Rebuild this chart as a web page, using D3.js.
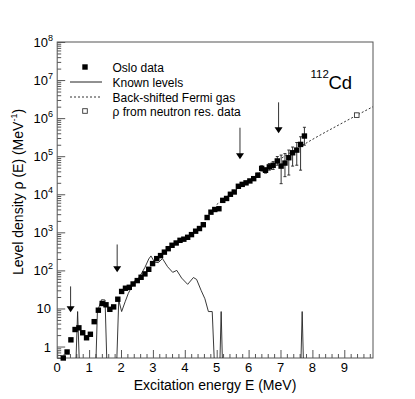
<!DOCTYPE html>
<html><head><meta charset="utf-8">
<script src="https://cdn.jsdelivr.net/npm/d3@7"></script>
<style>
html,body{margin:0;padding:0;background:#fff;}
svg{display:block;font-family:"Liberation Sans",Arial,Helvetica,sans-serif;}
</style></head>
<body><svg id="c" width="415" height="399"></svg>
<script>
// ---------- data ----------
const osloE = [0.19,0.31,0.43,0.56,0.68,0.80,0.92,1.04,1.16,1.29,1.41,1.53,1.65,1.77,1.90,
  2.02,2.14,2.26,2.38,2.51,2.63,2.75,2.87,2.99,3.12,3.24,3.36,3.48,3.60,3.73,3.85,3.97,
  4.09,4.21,4.34,4.46,4.58,4.70,4.82,4.94,5.07,5.19,5.31,5.43,5.55,5.68,5.80,5.92,6.04,
  6.16,6.29,6.41,6.53,6.65,6.77,6.90,7.02,7.14,7.26,7.38,7.51,7.63,7.75];
const osloRho = [0.5,0.72,1.5,2.8,3.1,2.3,1.7,2.1,4.5,9.0,13.5,12.5,9.5,11,17.5,
  28,34,36,44,54,66,81,107,151,204,245,302,372,457,525,617,661,
  741,871,1072,1259,1585,2455,3388,3981,4169,6918,7762,10000,11480,16218,18197,19953,22387,
  25704,31623,47863,42658,52481,57544,75000,54954,66069,91201,123027,144544,204174,338844];
// error bars (lower / upper) for the points where they are visible
const errE  = [6.29,6.41,6.53,6.65,6.77,6.90,7.02,7.14,7.26,7.38,7.51,7.63,7.75];
const errLo = [28000,41000,36000,43000,45000,58000,19000,29000,32000,55000,58000,43000,195000];
const errHi = [36000,56000,50000,64000,72000,98000,107000,117000,145000,174000,229000,324000,575000];

const knownE = [0.56,0.64,0.72,1.19,1.26,1.39,1.50,1.58,1.84,1.93,2.02,2.13,2.23,2.33,2.44,2.55,
  2.65,2.75,2.87,2.94,3.05,3.17,3.30,3.46,3.62,3.75,3.90,4.09,4.27,4.37,4.51,4.63,4.74,4.86,
  4.96,5.08,5.14,5.20,7.62,7.68,7.74,9.9];
const knownRho = [0,8.3,0,0,8.3,17,16.7,0,0,16.7,8.3,15,25,36,55,62,
  85,120,200,240,165,160,205,125,89,100,63,43,65,58,30,18,8.3,8.3,
  0,0,8.3,0,0,8.3,0,0];

const bsfgE = [5.0,6.0,7.0,8.0,9.0,9.9];
const bsfgRho = [5370,22900,85100,275000,794000,2000000];

const neutronE = [9.39];
const neutronRho = [1.2e6];
const neutronLo = [1.05e6];
const neutronHi = [1.38e6];

const arrowE = [0.42,1.88,5.73,6.94];
const arrowTip = [8.0,90,83000,400000];
const arrowTop = [38,480,560000,2600000];

const xTicks = [0,1,2,3,4,5,6,7,8,9];
const yExps = [0,1,2,3,4,5,6,7,8];
const legendLabels = ["Oslo data","Known levels","Back-shifted Fermi gas","\u03c1 from neutron res. data"];

// ---------- layout ----------
const svg = d3.select("#c");
const L = 57.2, R = 373, T = 42, B = 358;
const x = d3.scaleLinear().domain([0,9.9]).range([L,R]);
const y = d3.scaleLog().domain([0.5,1e8]).range([B,T]);
const yv = v => v > 0 ? y(v) : B + 30;
const axisCol = "#555";

svg.append("clipPath").attr("id","clip").append("rect")
  .attr("x",L).attr("y",T).attr("width",R-L).attr("height",B-T);

// frame
svg.append("rect").attr("x",L).attr("y",T).attr("width",R-L).attr("height",B-T)
  .attr("fill","none").attr("stroke",axisCol).attr("stroke-width",1);

// x axis ticks
const xMinor = d3.range(0,99).map(i=>i*0.2).filter(v=>v<=9.9 && Math.abs(v-Math.round(v))>1e-6);
const gx = svg.append("g").attr("transform",`translate(0,${B})`)
  .call(d3.axisBottom(x).tickValues(xTicks).tickSize(-8).tickFormat(""));
const gx2 = svg.append("g").attr("transform",`translate(0,${B})`)
  .call(d3.axisBottom(x).tickValues(xMinor).tickSize(-4).tickFormat(""));
[gx,gx2].forEach(g=>{g.select(".domain").remove(); g.selectAll("line").attr("stroke",axisCol);});
svg.selectAll(".xl").data(xTicks).enter().append("text")
  .attr("x",d=>x(d)).attr("y",372).attr("text-anchor","middle")
  .attr("font-size",13).text(d=>d);

// y axis ticks
const yMajor = yExps.map(e=>Math.pow(10,e));
const yMinor = [];
for (let e=-1;e<8;e++) for (let m=2;m<=9;m++){const v=m*Math.pow(10,e); if(v>=0.5&&v<=1e8) yMinor.push(v);}
const gy = svg.append("g").attr("transform",`translate(${L},0)`)
  .call(d3.axisLeft(y).tickValues(yMajor).tickSize(-8).tickFormat(""));
const gy2 = svg.append("g").attr("transform",`translate(${L},0)`)
  .call(d3.axisLeft(y).tickValues(yMinor).tickSize(-4).tickFormat(""));
[gy,gy2].forEach(g=>{g.select(".domain").remove(); g.selectAll("line").attr("stroke",axisCol);});
yExps.forEach(e=>{
  const t = svg.append("text").attr("y",y(Math.pow(10,e))+5).attr("text-anchor","end").attr("font-size",13);
  if (e===0) t.attr("x",51).text("1");
  else if (e===1) t.attr("x",51).text("10");
  else {
    t.attr("x",53);
    t.append("tspan").text("10");
    t.append("tspan").attr("font-size",9).attr("dy",-6).text(e);
  }
});

// axis titles
svg.append("text").attr("x",215).attr("y",390).attr("text-anchor","middle").attr("font-size",14)
  .text("Excitation energy E (MeV)");
const yt = svg.append("text").attr("transform","translate(23,192) rotate(-90)")
  .attr("text-anchor","middle").attr("font-size",14);
yt.append("tspan").text("Level density \u03c1 (E) (MeV");
yt.append("tspan").attr("font-size",9).attr("dy",-6).text("-1");
yt.append("tspan").attr("dy",6).text(")");

// plot contents
const pg = svg.append("g").attr("clip-path","url(#clip)");
// known levels
pg.append("path").datum(knownE.map((e,i)=>[e,knownRho[i]]))
  .attr("d",d3.line().x(d=>x(d[0])).y(d=>yv(d[1])))
  .attr("fill","none").attr("stroke","#222").attr("stroke-width",0.9);
// BSFG
pg.append("path").datum(bsfgE.map((e,i)=>[e,bsfgRho[i]]))
  .attr("d",d3.line().curve(d3.curveMonotoneX).x(d=>x(d[0])).y(d=>y(d[1])))
  .attr("fill","none").attr("stroke","#333").attr("stroke-width",1).attr("stroke-dasharray","2,2");

// error bars
errE.forEach((e,i)=>{
  const cx = x(e);
  pg.append("line").attr("x1",cx).attr("x2",cx).attr("y1",y(errLo[i])).attr("y2",y(errHi[i]))
    .attr("stroke","#333").attr("stroke-width",1);
  [errLo[i],errHi[i]].forEach(v=>pg.append("line").attr("x1",cx-1.5).attr("x2",cx+1.5)
    .attr("y1",y(v)).attr("y2",y(v)).attr("stroke","#333").attr("stroke-width",1));
});
// oslo points
svg.selectAll(".osl").data(osloE.map((e,i)=>[e,osloRho[i]])).enter().append("rect")
  .attr("x",d=>x(d[0])-2.7).attr("y",d=>y(d[1])-2.7).attr("width",5.4).attr("height",5.4)
  .attr("fill","#000");

// neutron res point
neutronE.forEach((e,i)=>{
  const cx=x(e);
  svg.append("line").attr("x1",cx).attr("x2",cx).attr("y1",y(neutronLo[i])).attr("y2",y(neutronHi[i]))
    .attr("stroke","#333");
  svg.append("rect").attr("x",cx-2.3).attr("y",y(neutronRho[i])-2.3).attr("width",4.6).attr("height",4.6)
    .attr("fill","#fff").attr("stroke","#333").attr("stroke-width",0.9);
});

// arrows
arrowE.forEach((e,i)=>{
  const cx=x(e), yt0=y(arrowTop[i]), yt1=y(arrowTip[i]);
  svg.append("line").attr("x1",cx).attr("x2",cx).attr("y1",yt0).attr("y2",yt1-5)
    .attr("stroke","#333").attr("stroke-width",1);
  svg.append("path").attr("d",`M${cx-4},${yt1-6}L${cx+4},${yt1-6}L${cx},${yt1}Z`).attr("fill","#000");
});

// legend
const ly = [67,82,97,111];
svg.append("rect").attr("x",85-2.7).attr("y",ly[0]-2.7).attr("width",5.4).attr("height",5.4).attr("fill","#000");
svg.append("line").attr("x1",70).attr("x2",102).attr("y1",ly[1]).attr("y2",ly[1]).attr("stroke","#222");
svg.append("line").attr("x1",70).attr("x2",102).attr("y1",ly[2]).attr("y2",ly[2]).attr("stroke","#333").attr("stroke-dasharray","2,2");
svg.append("rect").attr("x",85-2.3).attr("y",ly[3]-2.3).attr("width",4.6).attr("height",4.6)
  .attr("fill","#fff").attr("stroke","#333").attr("stroke-width",0.9);
legendLabels.forEach((t,i)=>svg.append("text").attr("x",112.5).attr("y",ly[i]+4.5).attr("font-size",12).text(t));

// nucleus label
svg.append("text").attr("x",310.5).attr("y",78).attr("font-size",11.5).text("112");
svg.append("text").attr("x",328.5).attr("y",88.5).attr("font-size",18.5).text("Cd");
</script></body></html>
